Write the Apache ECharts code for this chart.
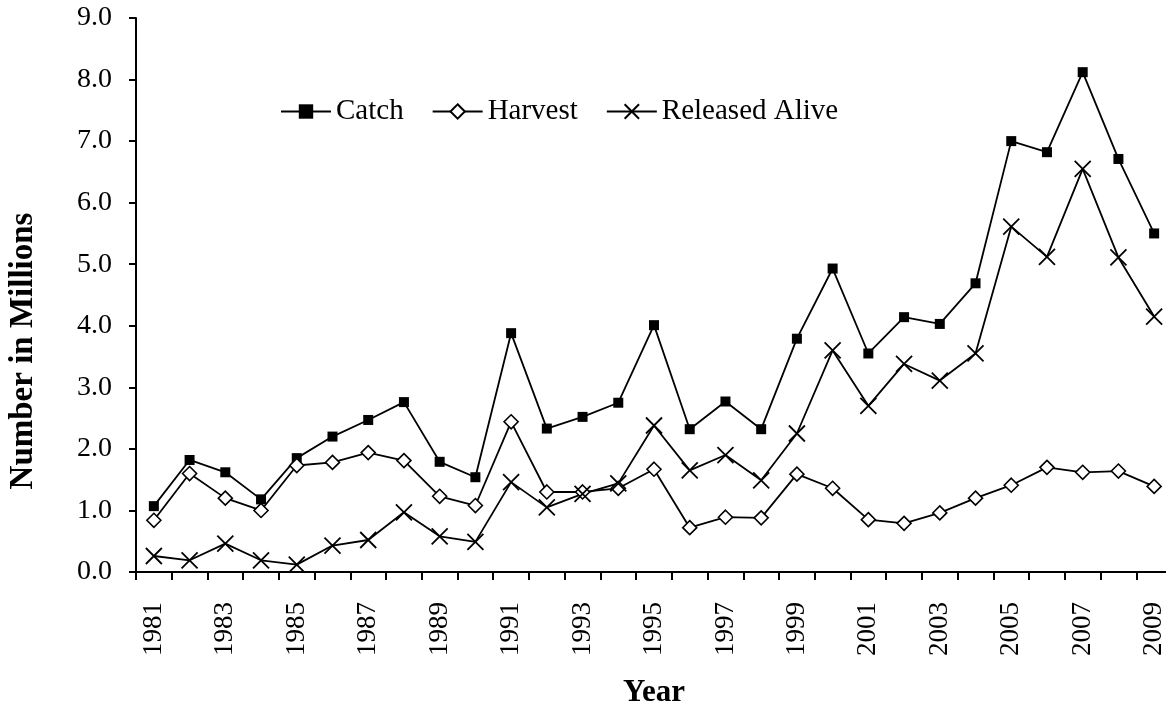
<!DOCTYPE html>
<html>
<head>
<meta charset="utf-8">
<script src="https://cdn.jsdelivr.net/npm/echarts@6/dist/echarts.min.js"></script>
<style>
html,body{margin:0;padding:0;background:#fff;}
#chart{width:1166px;height:709px;}
</style>
</head>
<body>
<div id="chart"></div>
<script>
var years = ['1981','1982','1983','1984','1985','1986','1987','1988','1989','1990','1991','1992','1993','1994','1995','1996','1997','1998','1999','2000','2001','2002','2003','2004','2005','2006','2007','2008','2009'];
var catchVals = [1.07,1.82,1.62,1.18,1.85,2.2,2.47,2.76,1.79,1.54,3.88,2.33,2.52,2.75,4.01,2.32,2.77,2.32,3.79,4.93,3.55,4.14,4.03,4.69,7.0,6.82,8.12,6.71,5.5];
var harvestVals = [0.84,1.6,1.2,1.0,1.73,1.78,1.94,1.81,1.23,1.08,2.44,1.3,1.3,1.36,1.67,0.72,0.89,0.88,1.59,1.36,0.85,0.79,0.96,1.2,1.41,1.7,1.62,1.64,1.39];
var releasedVals = [0.26,0.19,0.46,0.19,0.12,0.43,0.52,0.97,0.58,0.49,1.46,1.05,1.27,1.44,2.38,1.65,1.9,1.49,2.25,3.6,2.7,3.38,3.11,3.55,5.61,5.12,6.55,5.11,4.15];
var seriesNames = ['Catch','Harvest','Released Alive'];
var yTitle = 'Number in Millions';
var xTitle = 'Year';

var FONT = '"Liberation Serif", "Times New Roman", serif';
var chart = echarts.init(document.getElementById('chart'), null, {renderer:'canvas'});
var xPath = 'path://M0,0L10,10M10,0L0,10';
chart.setOption({
  animation: false,
  backgroundColor: '#fff',
  grid: {left: 136, top: 18, width: 1036, height: 554, containLabel: false, outerBoundsMode: 'none'},
  legend: {
    left: 275, top: 92,
    itemWidth: 50, itemHeight: 18, itemGap: 28,
    textStyle: {fontFamily: FONT, fontSize: 29, color: '#000'},
    data: seriesNames
  },
  xAxis: {
    type: 'category',
    data: years,
    boundaryGap: true,
    name: xTitle,
    nameLocation: 'middle',
    nameGap: 105,
    nameTextStyle: {fontFamily: FONT, fontSize: 31, fontWeight: 'bold', color: '#000'},
    axisLine: {lineStyle: {color: '#000', width: 2}},
    axisTick: {show: true, interval: 0, length: 8, inside: false, lineStyle: {color: '#000', width: 2}},
    axisLabel: {interval: 1, rotate: 90, margin: 30, fontFamily: FONT, fontSize: 27, color: '#000'},
    splitLine: {show: false}
  },
  yAxis: {
    type: 'value',
    min: 0, max: 9, interval: 1,
    axisLine: {show: true, lineStyle: {color: '#000', width: 2}},
    axisTick: {show: true, length: 7, lineStyle: {color: '#000', width: 2}},
    axisLabel: {margin: 24, fontFamily: FONT, fontSize: 28, color: '#000', formatter: function(v){return v.toFixed(1);}},
    splitLine: {show: false}
  },
  graphic: [{
    type: 'text',
    x: 23, y: 351,
    rotation: Math.PI/2,
    style: {text: yTitle, font: 'bold 33px ' + FONT, fill: '#000', textAlign: 'center', textVerticalAlign: 'middle'}
  }],
  series: [
    {
      name: seriesNames[0], type: 'line', data: catchVals,
      symbol: 'rect', symbolSize: 10, showAllSymbol: true,
      lineStyle: {color: '#000', width: 1.8},
      itemStyle: {color: '#000', borderColor: '#000', borderWidth: 0}
    },
    {
      name: seriesNames[1], type: 'line', data: harvestVals,
      symbol: 'diamond', symbolSize: 14, showAllSymbol: true,
      lineStyle: {color: '#000', width: 1.8},
      itemStyle: {color: '#fff', borderColor: '#000', borderWidth: 1.6}
    },
    {
      name: seriesNames[2], type: 'line', data: releasedVals,
      symbol: xPath, symbolSize: 16, showAllSymbol: true,
      lineStyle: {color: '#000', width: 1.8},
      itemStyle: {color: 'none', borderColor: '#000', borderWidth: 1.8}
    }
  ]
});
</script>
</body>
</html>
